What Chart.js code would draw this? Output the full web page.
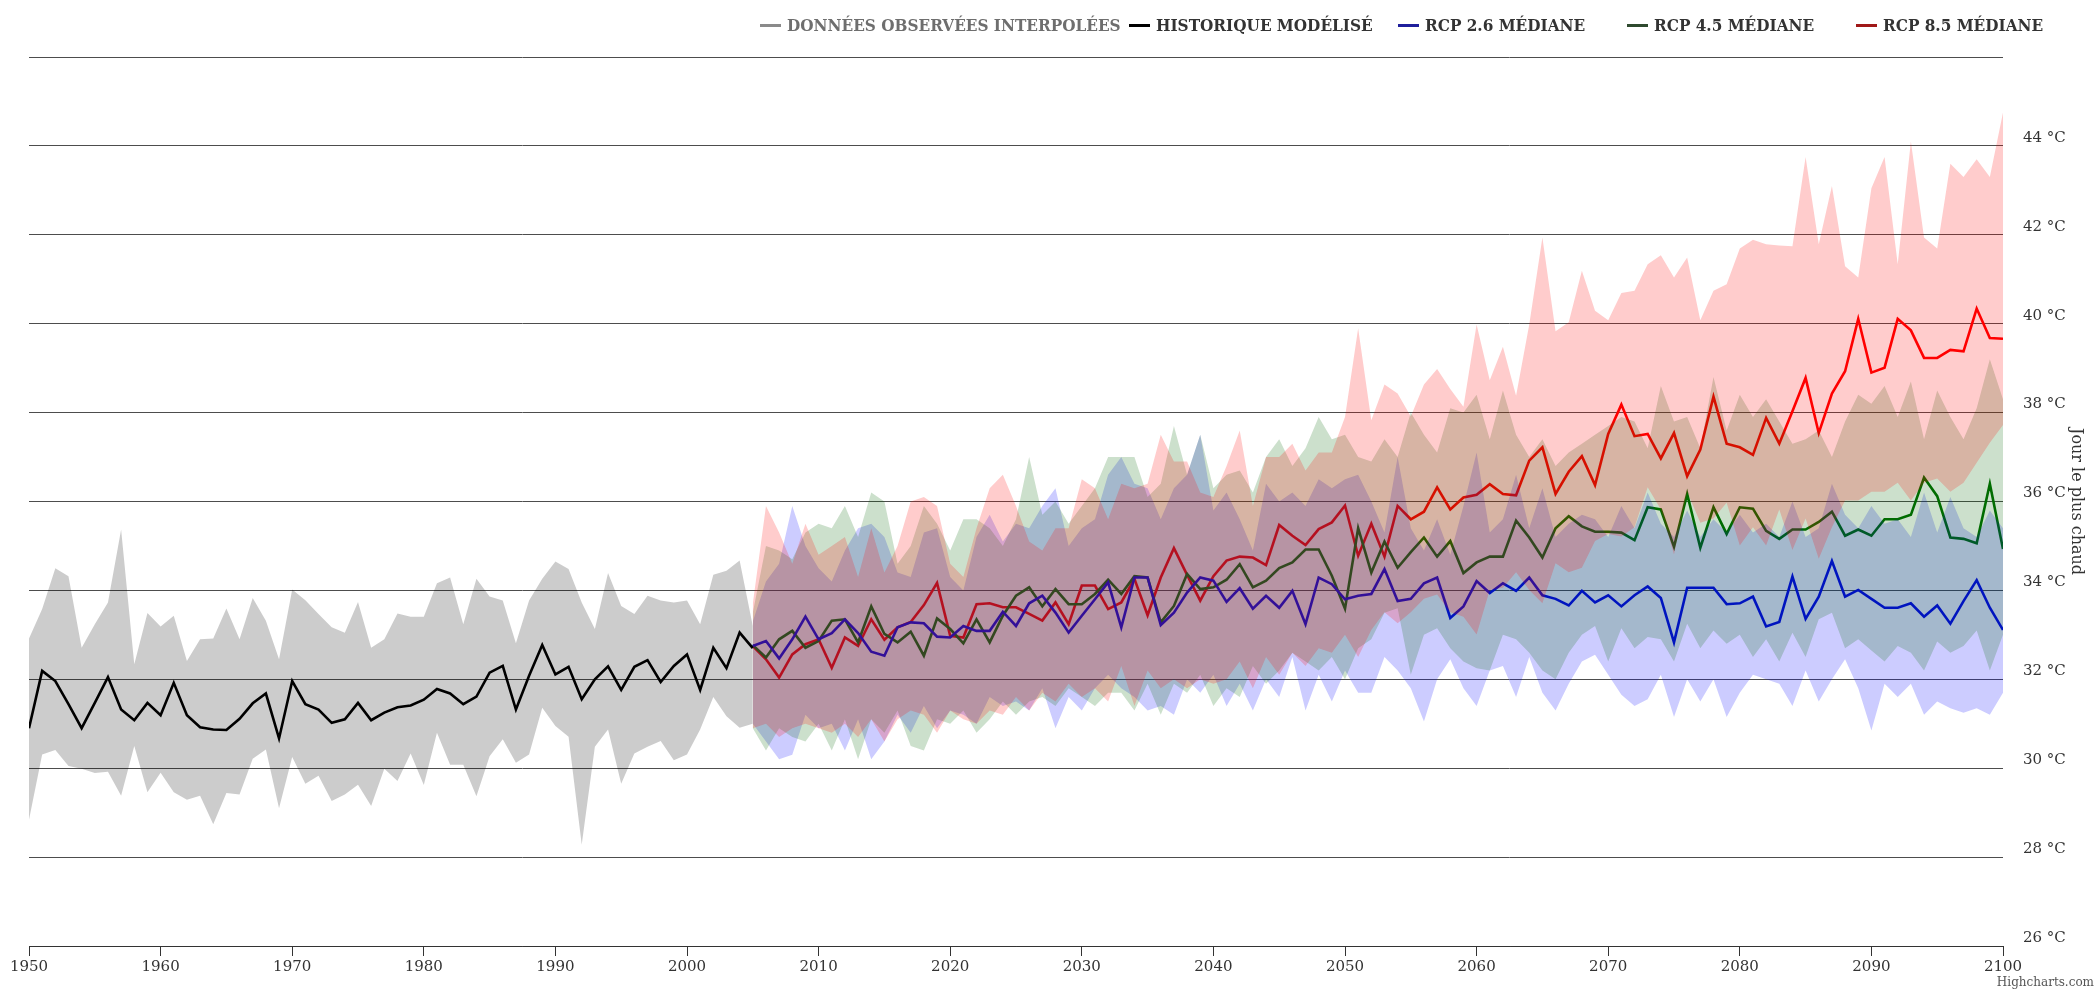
<!DOCTYPE html>
<html>
<head>
<meta charset="utf-8">
<script src="https://cdn.jsdelivr.net/npm/chart.js@4.4.1/dist/chart.umd.min.js"></script>
<style>
  html, body { margin: 0; padding: 0; background: #fff; }
  #wrap { position: relative; width: 2098px; height: 990px; }
  #legend { position: absolute; left: 0; top: 0; width: 100%; height: 50px;
    font-family: "DejaVu Serif Condensed", "DejaVu Serif", serif; font-stretch: condensed;
    font-weight: bold; font-size: 17px; }
  .item { position: absolute; top: 14px; line-height: 22px; white-space: nowrap; }
  .sym { display: inline-block; width: 21px; height: 3px; vertical-align: middle; margin-right: 6px; margin-top: -2px; }
  #credit { position: absolute; right: 4px; top: 975px; font-family: "DejaVu Serif", serif; font-size: 12px; color: #555; }
</style>
</head>
<body>
<div id="wrap">
  <canvas id="myChart" width="2098" height="990"></canvas>
  <div id="legend"></div>
  <div id="credit">Highcharts.com</div>
</div>
<script>
const histStart = 1950
const futStart = 2005

const histMedian = [30.9, 32.19, 31.96, 31.44, 30.9, 31.47, 32.05, 31.32, 31.08, 31.47,
  31.19, 31.92, 31.19, 30.92, 30.87, 30.86, 31.11, 31.46, 31.68, 30.67,
  31.96, 31.44, 31.32, 31.02, 31.1, 31.47, 31.08, 31.25, 31.37, 31.41,
  31.54, 31.78, 31.68, 31.44, 31.61, 32.15, 32.3, 31.32, 32.08, 32.77,
  32.11, 32.28, 31.55, 32.0, 32.29, 31.76, 32.28, 32.43, 31.94, 32.3,
  32.56, 31.76, 32.71, 32.25, 33.05, 32.7]
const histHigh = [32.92, 33.58, 34.5, 34.32, 32.71, 33.24, 33.73, 35.37, 32.34, 33.49,
  33.19, 33.43, 32.41, 32.9, 32.92, 33.59, 32.9, 33.83, 33.32, 32.45,
  34.02, 33.78, 33.47, 33.17, 33.05, 33.74, 32.71, 32.9, 33.48, 33.41,
  33.41, 34.16, 34.29, 33.24, 34.26, 33.86, 33.77, 32.81, 33.77, 34.26,
  34.65, 34.48, 33.73, 33.13, 34.39, 33.65, 33.47, 33.88, 33.77, 33.73,
  33.77, 33.24, 34.35, 34.44, 34.67, 33.2]
const histLow = [28.84, 30.31, 30.41, 30.05, 29.99, 29.89, 29.92, 29.38, 30.5, 29.46,
  29.9, 29.46, 29.29, 29.38, 28.74, 29.44, 29.41, 30.21, 30.42, 29.1,
  30.25, 29.65, 29.83, 29.26, 29.41, 29.63, 29.15, 29.99, 29.71, 30.33,
  29.62, 30.8, 30.08, 30.08, 29.37, 30.27, 30.65, 30.12, 30.31, 31.36,
  30.95, 30.71, 28.28, 30.48, 30.87, 29.65, 30.33, 30.48, 30.61, 30.18,
  30.31, 30.87, 31.6, 31.17, 30.91, 31.0]

const rcp26 = [32.75, 32.86, 32.47, 32.9, 33.41, 32.9, 33.04, 33.35, 33.04, 32.62,
  32.53, 33.17, 33.28, 33.26, 32.96, 32.94, 33.2, 33.09, 33.09, 33.52,
  33.2, 33.71, 33.88, 33.5, 33.05, 33.43, 33.8, 34.18, 33.17, 34.29,
  34.29, 33.22, 33.5, 33.95, 34.29, 34.22, 33.74, 34.05, 33.59, 33.88,
  33.61, 33.99, 33.24, 34.29, 34.14, 33.8, 33.88, 33.92, 34.48, 33.76,
  33.81, 34.16, 34.29, 33.38, 33.64, 34.21, 33.94, 34.16, 33.99, 34.29,
  33.89, 33.81, 33.66, 33.99, 33.73, 33.89, 33.64, 33.89, 34.09, 33.83,
  32.83, 34.06, 34.06, 34.06, 33.69, 33.71, 33.86, 33.19, 33.29, 34.31,
  33.36, 33.86, 34.66, 33.86, 34.01, 33.81, 33.61, 33.61, 33.71, 33.41,
  33.66, 33.25, 33.76, 34.23, 33.61, 33.11]
const rcp26High = [33.3, 34.2, 34.6, 35.9, 35.0, 34.5, 34.2, 34.9, 35.4, 35.5,
  35.2, 34.4, 34.3, 35.3, 35.4, 34.3, 34.0, 35.2, 35.7, 35.1,
  35.5, 35.4, 35.9, 36.3, 35.0, 35.4, 35.6, 36.6, 37.0, 36.4,
  36.3, 35.6, 36.3, 36.6, 37.5, 35.8, 36.2, 35.6, 34.9, 36.4,
  36.0, 36.2, 35.9, 36.5, 36.3, 36.5, 36.6, 36.0, 35.3, 37.0,
  35.4, 34.9, 35.6, 34.8, 35.9, 37.1, 35.3, 35.6, 36.6, 35.4,
  36.3, 35.2, 35.5, 35.7, 35.6, 35.2, 35.9, 35.4, 36.2, 35.5,
  35.2, 35.8, 35.2, 35.6, 35.3, 35.7, 35.3, 35.5, 35.2, 36.0,
  35.2, 35.4, 36.4, 35.7, 35.4, 35.9, 35.5, 35.6, 35.2, 36.2,
  35.3, 36.1, 35.4, 35.2, 35.8, 35.4]
const rcp26Low = [31.0, 30.6, 30.2, 30.3, 31.2, 30.9, 31.0, 30.4, 31.1, 30.2,
  30.6, 31.2, 30.8, 31.4, 30.9, 31.3, 31.2, 31.0, 31.6, 31.4,
  31.5, 31.3, 31.8, 30.9, 31.6, 31.3, 31.8, 32.1, 31.8, 31.6,
  31.3, 31.4, 31.2, 32.0, 31.7, 32.1, 31.4, 31.9, 31.3, 32.0,
  31.6, 32.5, 31.3, 32.1, 31.5, 32.2, 31.7, 31.7, 32.5, 32.2,
  31.8, 31.05, 32.0, 32.45, 31.8, 31.4, 32.2, 32.3, 31.6, 32.5,
  31.7, 31.3, 31.9, 32.4, 32.55, 32.1, 31.65, 31.4, 31.55, 32.1,
  31.15, 32.0, 31.5, 32.0, 31.15, 31.7, 32.1, 32.0, 31.9, 31.4,
  32.2, 31.5, 32.0, 32.45, 31.8, 30.85, 31.9, 31.6, 31.9, 31.2,
  31.5, 31.35, 31.25, 31.35, 31.2, 31.7]

const rcp45 = [32.77, 32.49, 32.9, 33.09, 32.71, 32.86, 33.32, 33.35, 32.83, 33.64,
  33.02, 32.83, 33.07, 32.53, 33.37, 33.13, 32.81, 33.35, 32.83, 33.43,
  33.88, 34.07, 33.64, 34.03, 33.69, 33.69, 33.92, 34.24, 33.92, 34.32,
  34.29, 33.28, 33.65, 34.37, 34.03, 34.07, 34.24, 34.59, 34.07, 34.22,
  34.5, 34.63, 34.92, 34.92, 34.33, 33.59, 35.4, 34.4, 35.1, 34.51,
  34.86, 35.19, 34.76, 35.11, 34.39, 34.63, 34.76, 34.76, 35.57, 35.19,
  34.74, 35.4, 35.67, 35.44, 35.32, 35.32, 35.3, 35.13, 35.87, 35.82,
  34.98, 36.17, 34.96, 35.87, 35.27, 35.87, 35.84, 35.34, 35.16, 35.37,
  35.37, 35.54, 35.77, 35.23, 35.37, 35.23, 35.6, 35.6, 35.7, 36.54,
  36.12, 35.19, 35.16, 35.06, 36.4, 34.93]
const rcp45High = [33.5, 35.0, 34.9, 34.7, 35.3, 35.5, 35.4, 35.9, 35.2, 36.2,
  36.0, 34.6, 35.0, 35.9, 35.5, 34.9, 35.6, 35.6, 35.4, 35.0,
  35.6, 37.0, 35.7, 36.0, 35.5, 35.9, 36.3, 37.0, 37.0, 37.0,
  36.1, 36.4, 37.7, 36.6, 37.5, 36.3, 36.6, 36.7, 36.2, 37.0,
  37.4, 36.8, 37.2, 37.9, 37.4, 37.5, 37.0, 36.9, 37.4, 37.0,
  38.0, 37.5, 37.1, 38.1, 38.0, 38.4, 37.4, 38.5, 37.5, 37.0,
  37.4, 36.8, 37.1, 37.3, 37.5, 37.7, 37.9, 37.8, 37.2, 38.6,
  37.8, 37.9, 37.2, 38.8, 37.6, 38.4, 37.9, 38.3, 37.8, 37.3,
  37.4, 37.6, 37.0, 37.8, 38.4, 38.2, 38.6, 37.9, 38.7, 37.4,
  38.5, 37.9, 37.4, 38.1, 39.2, 38.3]
const rcp45Low = [30.9, 30.4, 30.9, 30.7, 30.6, 31.0, 30.4, 31.1, 30.2, 31.1,
  30.8, 31.3, 30.5, 30.4, 31.1, 31.0, 31.3, 30.8, 31.1, 31.5,
  31.2, 31.5, 31.6, 31.4, 31.8, 31.6, 31.4, 31.7, 31.7, 31.3,
  31.9, 31.2, 31.9, 31.7, 32.1, 31.4, 31.8, 31.6, 32.3, 31.9,
  32.2, 32.6, 32.4, 32.2, 32.5, 32.0, 32.7, 32.9, 33.5, 33.6,
  32.1, 33.0, 33.15, 32.7, 32.4, 32.25, 32.2, 33.0, 32.9, 32.6,
  32.2, 32.0, 32.6, 33.0, 33.2, 32.4, 33.15, 32.7, 32.95, 32.9,
  32.4, 33.25, 32.7, 33.1, 32.8, 33.0, 32.5, 32.9, 32.4, 33.05,
  32.5, 33.35, 33.5, 32.7, 32.9, 32.65, 32.4, 32.75, 32.6, 32.2,
  32.85, 32.6, 32.75, 33.1, 32.2, 33.0]

const rcp85 = [32.75, 32.45, 32.04, 32.56, 32.79, 32.9, 32.26, 32.94, 32.75, 33.35,
  32.89, 33.17, 33.29, 33.67, 34.17, 32.98, 32.94, 33.69, 33.71, 33.62,
  33.62, 33.47, 33.32, 33.73, 33.24, 34.11, 34.11, 33.58, 33.73, 34.26,
  33.44, 34.29, 34.95, 34.35, 33.77, 34.32, 34.67, 34.76, 34.74, 34.57,
  35.47, 35.23, 35.02, 35.38, 35.53, 35.91, 34.78, 35.5, 34.76, 35.9,
  35.6, 35.77, 36.32, 35.82, 36.09, 36.15, 36.39, 36.17, 36.14, 36.92,
  37.22, 36.17, 36.67, 37.02, 36.37, 37.52, 38.18, 37.47, 37.52, 36.97,
  37.54, 36.57, 37.17, 38.36, 37.3, 37.22, 37.05, 37.88, 37.3, 38.03,
  38.78, 37.54, 38.43, 38.93, 40.11, 38.9, 39.01, 40.11, 39.85, 39.23,
  39.23, 39.41, 39.38, 40.34, 39.68, 39.66]
const rcp85High = [33.7, 35.9, 35.3, 34.6, 35.5, 34.8, 35.0, 35.2, 34.3, 35.4,
  34.4, 35.0, 36.0, 36.1, 35.9, 34.6, 34.3, 35.4, 36.3, 36.6,
  35.9, 35.1, 34.9, 35.4, 35.4, 36.5, 36.3, 35.6, 36.4, 36.3,
  36.4, 37.5, 36.9, 36.9, 36.2, 36.1, 36.8, 37.6, 35.9, 37.0,
  37.0, 37.3, 36.7, 37.1, 37.1, 37.9, 39.9, 37.83, 38.63, 38.43,
  37.91, 38.63, 38.98, 38.53, 38.13, 39.98, 38.73, 39.48, 38.38, 39.98,
  41.94, 39.83, 40.03, 41.19, 40.29, 40.08, 40.69, 40.74, 41.34, 41.54,
  41.04, 41.49, 40.08, 40.74, 40.89, 41.69, 41.89, 41.79, 41.76, 41.74,
  43.75, 41.79, 43.1, 41.29, 41.04, 43.05, 43.75, 41.34, 44.1, 41.94,
  41.69, 43.6, 43.3, 43.7, 43.3, 44.75]
const rcp85Low = [30.9, 31.0, 30.7, 30.9, 31.0, 30.9, 30.8, 31.0, 30.7, 31.1,
  30.6, 31.1, 31.3, 31.2, 30.8, 31.3, 31.1, 31.0, 31.3, 31.2,
  31.6, 31.3, 31.7, 31.5, 31.9, 31.6, 31.8, 31.5, 32.3, 31.4,
  32.2, 31.8, 32.0, 31.8, 32.0, 31.9, 32.0, 32.4, 31.8, 32.5,
  32.1, 32.6, 32.3, 32.7, 32.6, 33.0, 32.5, 33.11, 33.51, 33.26,
  33.51, 33.81, 33.91, 33.51, 33.41, 33.01, 34.01, 34.06, 34.41, 34.01,
  33.71, 34.61, 34.41, 34.51, 35.11, 35.27, 35.21, 35.42, 36.32, 35.82,
  34.81, 36.22, 35.52, 35.62, 35.97, 35.01, 35.42, 35.01, 35.82, 34.91,
  35.62, 34.71, 35.42, 36.02, 36.02, 36.22, 36.22, 36.42, 36.02, 36.42,
  36.52, 36.22, 36.42, 36.87, 37.32, 37.72]

const legendItems = [
  { label: 'DONNÉES OBSERVÉES INTERPOLÉES', symbol: '#8a8a8a', text: '#6e6e6e', left: 760 },
  { label: 'HISTORIQUE MODÉLISÉ', symbol: '#000000', text: '#333333', left: 1129 },
  { label: 'RCP 2.6 MÉDIANE', symbol: '#1f1f9c', text: '#333333', left: 1398 },
  { label: 'RCP 4.5 MÉDIANE', symbol: '#2f4a2f', text: '#333333', left: 1627 },
  { label: 'RCP 8.5 MÉDIANE', symbol: '#a01818', text: '#333333', left: 1856 }
]

const legendEl = document.getElementById('legend')
legendItems.forEach(item => {
  let div = document.createElement('div')
  div.className = 'item'
  div.style.left = item.left + 'px'
  div.innerHTML = `<span class="sym" style="background:${item.symbol}"></span><span style="color:${item.text}">${item.label}</span>`
  legendEl.appendChild(div)
})

const pts = (start, arr) => arr.map((v, i) => ({ x: start + i, y: v }))

// higher order is drawn first, so lines sit under the colored ranges
const line = (label, start, arr, color) => ({
  label: label, data: pts(start, arr), borderColor: color, borderWidth: 2.6,
  pointRadius: 0, fill: false, tension: 0, order: 5
})
const bandTop = (start, arr, color, order) => ({
  data: pts(start, arr), borderWidth: 0, pointRadius: 0, fill: '+1',
  backgroundColor: color, tension: 0, order: order
})
const bandBottom = (start, arr, order) => ({
  data: pts(start, arr), borderWidth: 0, pointRadius: 0, fill: false, tension: 0, order: order
})

const datasets = [
  bandTop(histStart, histHigh, 'rgba(0,0,0,0.2)', 10),
  bandBottom(histStart, histLow, 10),
  line('Historique modélisé', histStart, histMedian, '#000000'),
  line('RCP 2.6 médiane', futStart, rcp26, 'rgb(0,0,235)'),
  line('RCP 4.5 médiane', futStart, rcp45, 'rgb(0,110,0)'),
  line('RCP 8.5 médiane', futStart, rcp85, 'rgb(255,0,0)'),
  bandTop(futStart, rcp26High, 'rgba(0,0,255,0.2)', 3),
  bandBottom(futStart, rcp26Low, 3),
  bandTop(futStart, rcp45High, 'rgba(0,100,0,0.2)', 2),
  bandBottom(futStart, rcp45Low, 2),
  bandTop(futStart, rcp85High, 'rgba(255,0,0,0.2)', 1),
  bandBottom(futStart, rcp85Low, 1)
]

const tickFont = { family: 'DejaVu Serif', size: 15 }

var ctx = document.getElementById('myChart').getContext('2d');
var chart = new Chart(ctx, {
  type: 'line',
  data: { datasets: datasets },
  options: {
    responsive: false,
    animation: false,
    layout: { padding: { left: 29, top: 57, right: 0, bottom: 0 } },
    plugins: {
      legend: { display: false },
      tooltip: { enabled: false }
    },
    scales: {
      x: {
        type: 'linear', min: 1950, max: 2100,
        afterFit: scale => { scale.height = 44 },
        ticks: { stepSize: 10, autoSkip: false, maxRotation: 0, color: '#333', font: tickFont, padding: 2,
          callback: v => String(v) },
        grid: { drawOnChartArea: false, drawTicks: true, tickLength: 10, color: '#333' },
        border: { display: true, color: '#333', width: 1 }
      },
      y: {
        position: 'right', min: 26, max: 46,
        afterFit: scale => { scale.width = 95 },
        ticks: { stepSize: 2, color: '#333', font: tickFont, padding: 20, labelOffset: -8,
          callback: v => v >= 46 ? '' : v + ' °C' },
        grid: { color: '#4d4d4d', lineWidth: 1, drawTicks: false },
        border: { display: false },
        title: { display: true, text: 'Jour le plus chaud', color: '#333',
          font: { family: 'DejaVu Serif', size: 16 }, padding: { top: 12, bottom: 0 } }
      }
    }
  }
});
</script>
</body>
</html>
